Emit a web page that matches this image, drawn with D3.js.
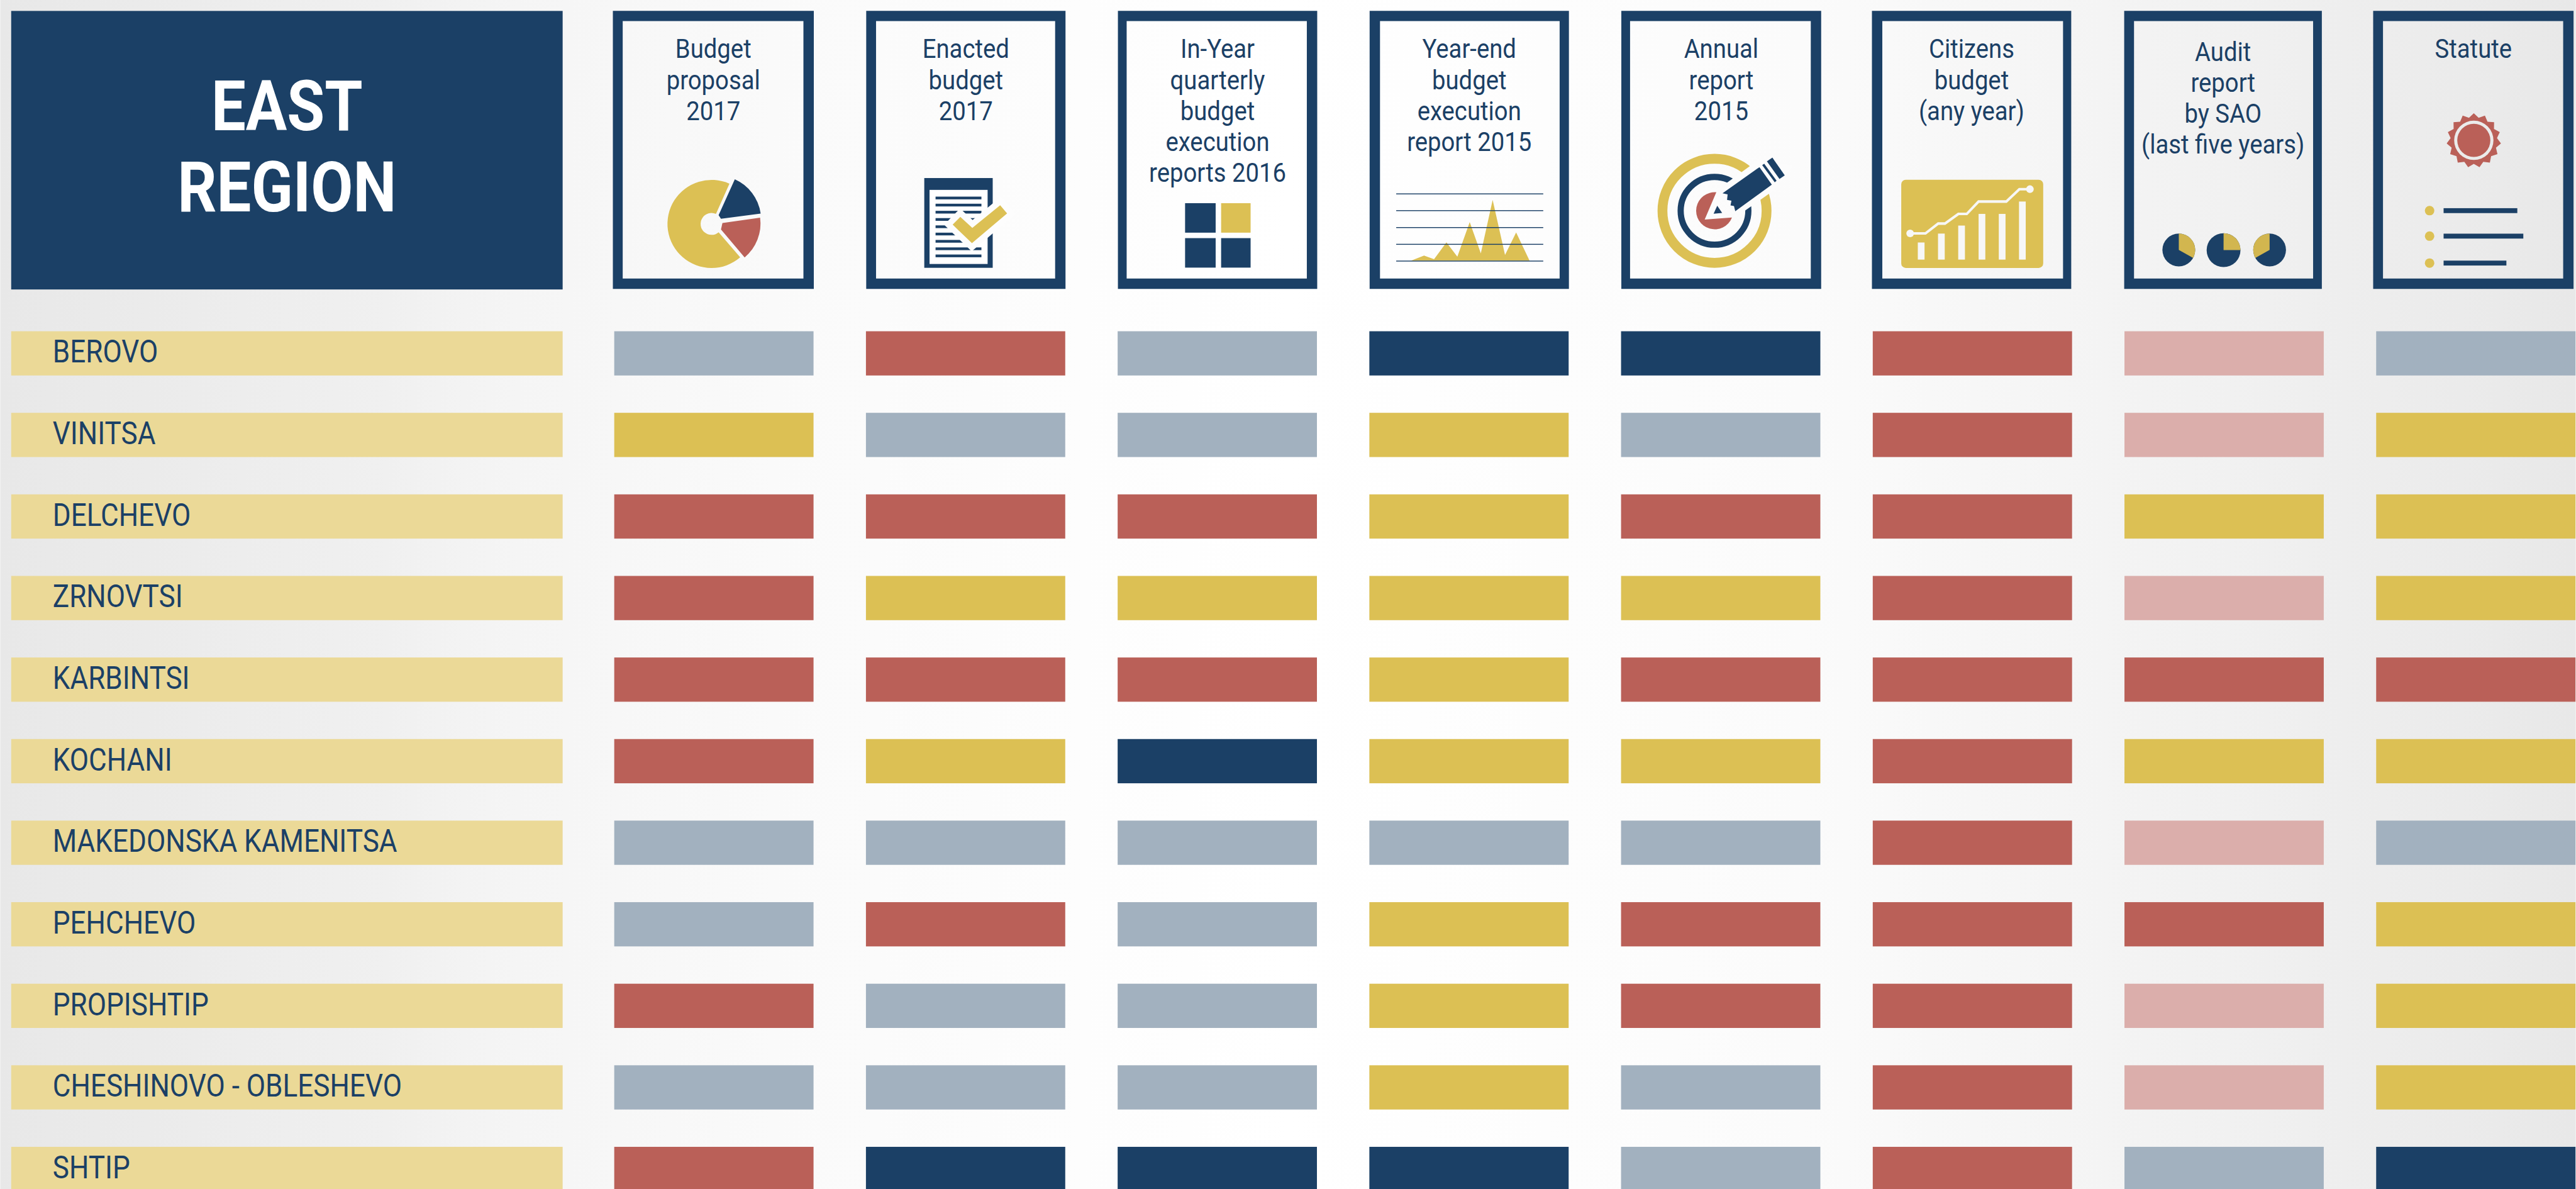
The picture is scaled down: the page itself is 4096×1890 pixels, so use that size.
<!DOCTYPE html>
<html lang="en">
<head>
    <meta charset="UTF-8">
    <title>East region</title>
    <script src="https://d3js.org/d3.v7.min.js"></script>
    <style>
    html, body { margin: 0; padding: 0; background: #fff; overflow: hidden; }
    svg { display: block; }
    text { font-family: Roboto, sans-serif; }
    </style>
</head>
<body>
<div id="chart"></div>
<script>
var titleLines = ["EAST", "REGION"];

var documents = ["Budget proposal 2017", "Enacted budget 2017", "In-Year quarterly budget execution reports 2016",
    "Year-end budget execution report 2015", "Annual report 2015", "Citizens budget (any year)",
    "Audit report by SAO (last five years)", "Statute"];
var documentLines = [
    ["Budget", "proposal", "2017"],
    ["Enacted", "budget", "2017"],
    ["In-Year", "quarterly", "budget", "execution", "reports 2016"],
    ["Year-end", "budget", "execution", "report 2015"],
    ["Annual", "report", "2015"],
    ["Citizens", "budget", "(any year)"],
    ["Audit", "report", "by SAO", "(last five years)"],
    ["Statute"]
];

var municipalities = ["BEROVO", "VINITSA", "DELCHEVO", "ZRNOVTSI", "KARBINTSI", "KOCHANI",
    "MAKEDONSKA KAMENITSA", "PEHCHEVO", "PROPISHTIP", "CHESHINOVO - OBLESHEVO", "SHTIP"];

// one status per document, N navy, S steel, Y yellow, R red, P pink
var berovo     = ["S", "R", "S", "N", "N", "R", "P", "S"];
var vinitsa    = ["Y", "S", "S", "Y", "S", "R", "P", "Y"];
var delchevo   = ["R", "R", "R", "Y", "R", "R", "Y", "Y"];
var zrnovtsi   = ["R", "Y", "Y", "Y", "Y", "R", "P", "Y"];
var karbintsi  = ["R", "R", "R", "Y", "R", "R", "R", "R"];
var kochani    = ["R", "Y", "N", "Y", "Y", "R", "Y", "Y"];
var makedonska = ["S", "S", "S", "S", "S", "R", "P", "S"];
var pehchevo   = ["S", "R", "S", "Y", "R", "R", "R", "Y"];
var propishtip = ["R", "S", "S", "Y", "R", "R", "P", "Y"];
var cheshinovo = ["S", "S", "S", "Y", "S", "R", "P", "Y"];
var shtip      = ["R", "N", "N", "N", "S", "R", "S", "N"];
var statusRows = [berovo, vinitsa, delchevo, zrnovtsi, karbintsi, kochani,
    makedonska, pehchevo, propishtip, cheshinovo, shtip];

var statusKeys = ["N", "S", "Y", "R", "P"];
var statusColors = ["#1b4066", "#a2b1bf", "#dcc054", "#ba6058", "#dbaeab"];

var NAVY = "#1b4066", GOLD = "#dcc054", RED = "#ba6058", LABEL = "#ebd997";

var svg = d3.select("#chart").append("svg")
    .attr("width", 4096)
    .attr("height", 1890)
    .attr("viewBox", "0 0 4717 2177");

var grad = svg.append("defs").append("linearGradient").attr("id", "bg");
[[0, "#e8e8e8"], [0.15, "#f0f0f0"], [0.2, "#f5f5f5"], [0.3, "#fafafa"], [0.5, "#ffffff"],
    [0.7, "#fbfbfb"], [0.85, "#f2f2f2"], [1, "#e8e8e8"]]
    .forEach(function(s) {
        grad.append("stop").attr("offset", s[0]).attr("stop-color", s[1]);
    });
svg.append("rect").attr("width", 4717).attr("height", 2177).attr("fill", "url(#bg)");

var x = d3.scalePoint().domain(documents).range([1124.5, 4351.5]);
var y = d3.scalePoint().domain(municipalities).range([606.5, 2099.8]);
var color = d3.scaleOrdinal().domain(statusKeys).range(statusColors);
var BAR_W = 365, BAR_H = 81;

// title box
svg.append("rect").attr("x", 20).attr("y", 20).attr("width", 1010).attr("height", 510).attr("fill", NAVY);
svg.selectAll("text.title")
    .data(titleLines)
    .enter()
    .append("text")
    .attr("class", "title")
    .attr("transform", (d, i) => "translate(525," + (239 + i * 147.5) + ") scale(0.87,1)")
    .attr("text-anchor", "middle")
    .attr("font-size", 129)
    .attr("font-weight", 700)
    .attr("fill", "#fff")
    .text(d => d);

// header cards: outer left/right, inner left/right
var cardFrames = [[1122, 1490, 1140, 1471], [1586, 1951, 1604, 1932], [2047, 2412, 2063, 2393], [2508, 2873, 2527, 2856],
    [2969, 3335, 2985, 3316], [3428, 3793, 3447, 3778], [3890, 4252, 3908, 4236], [4346, 4713, 4364, 4694]];

svg.selectAll("path.frame")
    .data(cardFrames)
    .enter()
    .append("path")
    .attr("class", "frame")
    .attr("fill", NAVY)
    .attr("fill-rule", "evenodd")
    .attr("d", function(f) {
        var p = d3.path();
        p.rect(f[0], 20, f[1] - f[0], 509);
        p.rect(f[2], 38.5, f[3] - f[2], 471.5);
        return p.toString();
    });

var headerFirstLine = [106.5, 106.5, 106.5, 106.5, 106.5, 106.5, 111.5, 106.5];
var cardText = svg.selectAll("g.cardtext")
    .data(documentLines)
    .enter()
    .append("g")
    .attr("class", "cardtext")
    .attr("transform", (d, i) => "translate(" + (cardFrames[i][0] + cardFrames[i][1]) / 2 + "," + headerFirstLine[i] + ")");
cardText.selectAll("text")
    .data(d => d)
    .enter()
    .append("text")
    .attr("transform", (d, i) => "translate(0," + i * 56.5 + ") scale(0.9,1)")
    .attr("text-anchor", "middle")
    .attr("font-size", 49)
    .attr("fill", NAVY)
    .text(d => d);

// rows
var rows = svg.selectAll("g.row")
    .data(municipalities)
    .enter()
    .append("g")
    .attr("class", "row")
    .attr("transform", d => "translate(0," + y(d) + ")");
rows.append("rect")
    .attr("x", 20)
    .attr("width", 1010)
    .attr("height", BAR_H)
    .attr("fill", LABEL);
rows.append("text")
    .attr("transform", "translate(96,57.5) scale(0.875,1)")
    .attr("font-size", 58)
    .attr("fill", NAVY)
    .text(d => d);
rows.selectAll("rect.cell")
    .data((d, i) => statusRows[i].map((s, j) => ({ doc: documents[j], status: s })))
    .enter()
    .append("rect")
    .attr("class", "cell")
    .attr("x", d => x(d.doc))
    .attr("width", BAR_W)
    .attr("height", BAR_H)
    .attr("fill", d => color(d.status));

// icons, coordinates are in 3x units from the icon origin
function icon(ox, oy) {
    return svg.append("g").attr("transform", "translate(" + ox + "," + oy + ") scale(" + 1 / 3 + ")");
}
function poly(g, pts, fill) {
    return g.append("path").attr("d", "M" + pts.join("L") + "Z").attr("fill", fill);
}
function bar(g, x0, y0, x1, y1, fill) {
    return g.append("rect").attr("x", x0).attr("y", y0).attr("width", x1 - x0).attr("height", y1 - y0).attr("fill", fill);
}
var deg = Math.PI / 180;

// budget proposal pie
var ic = icon(1200, 310);
ic.append("path")
    .attr("transform", "translate(308,300)")
    .attr("fill", GOLD)
    .attr("d", d3.arc()({ innerRadius: 60, outerRadius: 242, startAngle: 139.4 * deg, endAngle: 384 * deg }));
ic.append("path").attr("fill", NAVY).attr("d", "M436,55A242,242 0 0 1 578,243L360,272L347,252Z");
ic.append("path").attr("fill", RED).attr("d", "M575,266A242,242 0 0 1 490,484L360,330L368,295Z");

// enacted budget
ic = icon(1670, 310);
bar(ic, 67, 48, 443, 541, NAVY);
bar(ic, 96, 113, 415, 520, "#fff");
[150, 189, 228, 268, 308, 348, 388, 429, 468].forEach(function(t) {
    bar(ic, 129, t, 381, t + 15, NAVY);
});
var check = [[265, 261], [331, 322], [484, 197], [522, 242], [329, 406], [223, 304]];
poly(ic, check, "#fdfdfd").attr("stroke", "#fdfdfd").attr("stroke-width", 66).attr("stroke-linejoin", "miter");
poly(ic, check, GOLD);

// in-year squares
ic = icon(2170, 372);
bar(ic, 0, 0, 168, 162, NAVY);
bar(ic, 198, 0, 360, 162, GOLD);
bar(ic, 0, 192, 168, 354, NAVY);
bar(ic, 198, 192, 360, 354, NAVY);

// year-end area
ic = icon(2540, 340);
poly(ic, [[130, 412], [203, 384], [258, 404], [326, 311], [386, 390], [454, 200], [515, 372], [580, 78], [648, 380], [709, 257], [783, 412]], GOLD);
[45, 137, 230, 322, 414].forEach(function(t) {
    bar(ic, 50, t - 2.5, 858, t + 2.5, NAVY);
});

// annual report target
ic = icon(3020, 270);
ic.append("circle").attr("cx", 359).attr("cy", 348).attr("r", 286).attr("fill", "none").attr("stroke", GOLD).attr("stroke-width", 54);
ic.append("circle").attr("cx", 359).attr("cy", 348).attr("r", 186).attr("fill", "none").attr("stroke", NAVY).attr("stroke-width", 34);
ic.append("path").attr("fill", RED).attr("d", "M369,246A102,102 0 1 0 455,385L305,396Z");
poly(ic, [[420, 199], [600, 69], [790, 100], [690, 232], [500, 366]], "#fcfcfc");
poly(ic, [[403, 252], [606, 108], [674, 204], [473, 350], [466, 322], [447, 318], [452, 292], [428, 288], [431, 258]], NAVY);
poly(ic, [[621, 97], [632, 89], [700, 183], [690, 191]], NAVY);
poly(ic, [[647, 76], [677, 56], [745, 153], [716, 173]], NAVY);
poly(ic, [[374, 320], [401, 360], [354, 364]], NAVY);

// citizens budget chart
ic = icon(3470, 320);
bar(ic, 35, 27, 815, 512, GOLD).attr("rx", 25);
[[126, 372], [237, 323], [348, 279], [460, 215], [571, 215], [682, 147]].forEach(function(b) {
    bar(ic, b[0], b[1], b[0] + 37, 466, "#f7f7f7");
});
ic.append("path")
    .attr("d", "M84,322L168,322L238,268L275,268L349,215L395,215L460,147L612,147L684,79L742,79")
    .attr("fill", "none")
    .attr("stroke", "#f7f7f7")
    .attr("stroke-width", 14);
ic.append("circle").attr("cx", 84).attr("cy", 322).attr("r", 21).attr("fill", "#f7f7f7");
ic.append("circle").attr("cx", 742).attr("cy", 79).attr("r", 21).attr("fill", "#f7f7f7");

// audit pies
ic = icon(3950, 420);
[[120, 113, 90, 0, 119], [366, 114, 93, 0, 90], [619, 113, 90, 241, 360]].forEach(function(p) {
    var t = ic.append("g").attr("transform", "translate(" + p[0] + "," + p[1] + ")");
    t.append("circle").attr("r", p[2]).attr("fill", NAVY);
    t.append("path")
        .attr("fill", "#d2b64f")
        .attr("d", d3.arc()({ innerRadius: 0, outerRadius: p[2], startAngle: p[3] * deg, endAngle: p[4] * deg }));
});

// statute seal and list
ic = icon(4420, 190);
var sealPts = d3.range(30).map(i => [i * 12 * deg, i % 2 ? 128 : 150]);
ic.append("path")
    .attr("transform", "translate(331,202)")
    .attr("fill", RED)
    .attr("d", d3.lineRadial().curve(d3.curveLinearClosed)(sealPts));
ic.append("circle").attr("cx", 331).attr("cy", 201).attr("r", 108).attr("fill", "#ebebeb");
ic.append("circle").attr("cx", 331).attr("cy", 201).attr("r", 91).attr("fill", RED);
[[587, 570], [727, 603], [875, 510]].forEach(function(l) {
    ic.append("circle").attr("cx", 88).attr("cy", l[0]).attr("r", 26).attr("fill", GOLD);
    bar(ic, 165, l[0] - 13.5, l[1], l[0] + 13.5, NAVY);
});
</script>
</body>
</html>
